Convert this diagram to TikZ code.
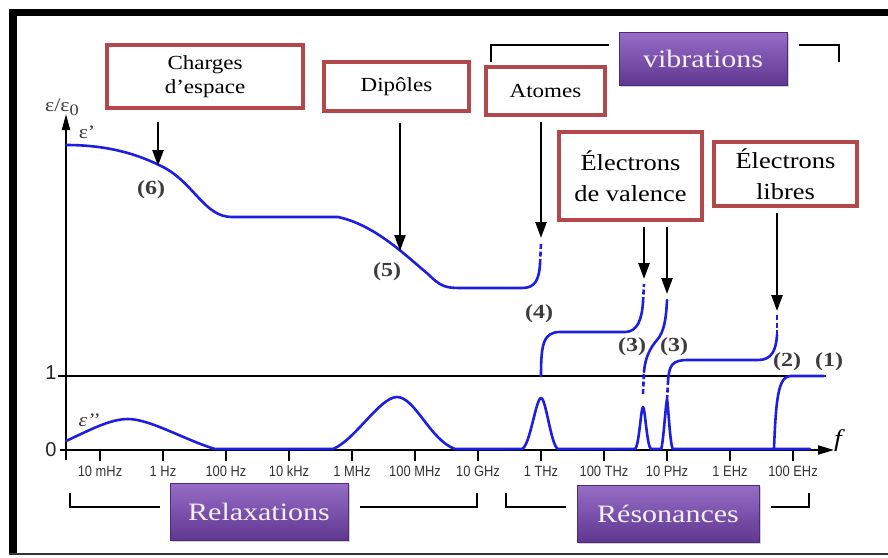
\documentclass[tikz,border=0pt]{standalone}
\usepackage{fontspec}
\setmainfont{Liberation Serif}
\newfontfamily\wideserif{Liberation Serif}[FakeStretch=1.15]
\newfontfamily\tagserif{Liberation Serif}[FakeStretch=1.2]
\newfontfamily\ticksans{Liberation Sans}[FakeStretch=0.86]
\newfontfamily\axsans{Liberation Sans}
\usetikzlibrary{arrows.meta,shadows}

\definecolor{curveblue}{RGB}{30,30,225}
\definecolor{boxred}{RGB}{178,72,76}
\definecolor{violetTop}{RGB}{150,110,200}
\definecolor{violetBot}{RGB}{95,55,145}
\definecolor{labelgray}{RGB}{60,60,60}

\begin{document}
\begin{tikzpicture}[x=1pt,y=-1pt,
  redbox/.style={draw=boxred,line width=4pt,fill=white,inner sep=0pt,align=center,
    font=\wideserif\fontsize{20}{24}\selectfont},
  bigredbox/.style={redbox,font=\wideserif\fontsize{23}{31}\selectfont},
  catbox/.style={draw=violetBot!80!black,line width=0.6pt,top color=violetTop,
    bottom color=violetBot,inner sep=0pt,text=white!94!violet,
    font=\tagserif\fontsize{25}{25}\selectfont,
    drop shadow={shadow xshift=2pt,shadow yshift=-2pt,opacity=0.35}},
  pointer/.style={line width=2.4pt,-{Triangle[length=16pt,width=11pt]}},
  bracket/.style={line width=2.4pt},
  curve/.style={draw=curveblue,line width=2.6pt,line cap=round,line join=round},
  curvedash/.style={curve,line cap=butt,dash pattern=on 5pt off 2.5pt},
  ticklab/.style={font=\ticksans\fontsize{15}{15}\selectfont,text=black!80,inner sep=0pt},
  tag/.style={font=\tagserif\bfseries\fontsize{20}{20}\selectfont,text=labelgray,inner sep=0pt},
  axlab/.style={font=\axsans\fontsize{20}{20}\selectfont,text=black!85,inner sep=0pt},
]
\useasboundingbox (0,0) rectangle (888,557);
\fill[white] (0,0) rectangle (888,557);

% outer frame
\fill[black] (9,9) rectangle (17,555);
\fill[black] (9,9) rectangle (888,16);
\draw[black!80,line width=2pt] (9,554) -- (888,554);

% axes
\coordinate (orig) at (66,460);
\coordinate (ytop) at (66,114);
\coordinate (xstart) at (60,450);
\coordinate (xend) at (834,450);
\coordinate (onestart) at (58,376);
\coordinate (oneend) at (826,376);
\draw[line width=2pt,-{Triangle[length=16pt,width=8pt]}] (orig) -- (ytop);
\draw[line width=2pt,-{Triangle[length=16pt,width=9pt]}] (xstart) -- (xend);
\draw[line width=2pt] (onestart) -- (oneend);

% frequency ticks
\foreach \i/\lab in {0/10 mHz,1/1 Hz,2/100 Hz,3/10 kHz,4/1 MHz,5/100 MHz,
                     6/10 GHz,7/1 THz,8/100 THz,9/10 PHz,10/1 EHz,11/100 EHz}{
  \draw[line width=1.6pt] (100+63*\i,450) -- (100+63*\i,461);
  \node[ticklab] (tick\i) at (100+63*\i,471) {\lab};
}

% axis labels
\node[font=\wideserif\fontsize{19}{19}\selectfont,text=labelgray,inner sep=0pt] (ylab) at (62,107)
  {ε/ε\raisebox{-4pt}{\fontsize{16}{16}\selectfont 0}};
\node[font=\wideserif\fontsize{19}{19}\selectfont,text=labelgray,inner sep=0pt] (epsr) at (87,132) {ε\textquoteright};
\node[font=\wideserif\itshape\fontsize{19}{19}\selectfont,text=labelgray,inner sep=0pt] (epsi) at (89,420) {ε\textquoteright\textquoteright};
\node[axlab] (lab1) at (51,373) {1};
\node[axlab] (lab0) at (51,450) {0};
\node[font=\wideserif\itshape\fontsize{24}{24}\selectfont,inner sep=0pt] (flab) at (838,441) {f};

% imaginary part
\draw[curve] (66,441) .. controls (90,430) and (110,419) .. (128,419)
  .. controls (150,419) and (185,440) .. (215,449) -- (333,449)
  .. controls (355,440) and (380,397) .. (397,397)
  .. controls (415,397) and (430,440) .. (455,449) -- (522,449)
  .. controls (530,446) and (536,398) .. (541,398)
  .. controls (546,398) and (551,446) .. (558,449) -- (635,449)
  .. controls (639,447) and (641,407) .. (643,407)
  .. controls (645,407) and (647,447) .. (651,449) -- (661,449)
  .. controls (663,447) and (666,400) .. (667,400)
  .. controls (668,400) and (670,447) .. (673,449) -- (810,449);

% real part
\draw[curve] (66,145) .. controls (110,145) and (140,155) .. (165,168)
  .. controls (195,185) and (205,217) .. (232,217) -- (338,217)
  .. controls (375,225) and (405,255) .. (428,274)
  .. controls (440,286) and (445,288) .. (460,288) -- (522,288)
  .. controls (535,288) and (539,280) .. (540,264);
\draw[curvedash] (540,264) -- (541,244);

\draw[curve] (541,376) .. controls (541,345) and (543,332) .. (560,332) -- (625,332)
  .. controls (638,332) and (642,318) .. (643,302);
\draw[curvedash] (643,302) -- (644,284);

\draw[curvedash] (643,394) -- (644,372);
\draw[curve] (644,372) .. controls (645,358) and (650,348) .. (657,340)
  .. controls (664,332) and (666,320) .. (667,300);

\draw[curvedash] (667,400) -- (668,382);
\draw[curve] (668,382) .. controls (669,365) and (672,360) .. (688,360) -- (758,360)
  .. controls (772,360) and (776,350) .. (777,335);
\draw[curvedash] (777,335) -- (777,315);

\draw[curve] (774,448) .. controls (776,400) and (778,377) .. (790,376) -- (824,376);

% process numbers
\node[tag] (n6) at (151,190) {(6)};
\node[tag] (n5) at (387,272) {(5)};
\node[tag] (n4) at (539,314) {(4)};
\node[tag] (n3a) at (632,347) {(3)};
\node[tag] (n3b) at (674,347) {(3)};
\node[tag] (n2) at (787,362) {(2)};
\node[tag] (n1) at (829,362) {(1)};

% mechanism boxes
\node[redbox,minimum width=196pt,minimum height=63pt] (charges) at (205,76.5) {Charges\\d\textquoteright espace};
\node[redbox,minimum width=145pt,minimum height=49pt] (dipoles) at (396.5,86.5) {Dipôles};
\node[redbox,minimum width=119pt,minimum height=48pt] (atomes) at (545.5,91) {Atomes};
\node[bigredbox,minimum width=143pt,minimum height=88pt] (valence) at (630.5,176) {Électrons\\de valence};
\node[bigredbox,minimum width=143pt,minimum height=64pt] (libres) at (785.5,174) {Électrons\\libres};

% arrows onto the curve
\coordinate (tipA) at (158,166);
\coordinate (tipB) at (400,251);
\coordinate (tipC) at (541,238);
\coordinate (tipD) at (644,279);
\coordinate (tipE) at (667,294);
\coordinate (tipF) at (777,311);
\draw[pointer,shorten <=12pt] (charges.south -| tipA) -- (tipA);
\draw[pointer,shorten <=10pt] (dipoles.south -| tipB) -- (tipB);
\draw[pointer,shorten <=5pt] (atomes.south -| tipC) -- (tipC);
\draw[pointer,shorten <=5pt] (valence.south -| tipD) -- (tipD);
\draw[pointer,shorten <=5pt] (valence.south -| tipE) -- (tipE);
\draw[pointer,shorten <=5pt] (libres.south -| tipF) -- (tipF);

% category tags and brackets
\node[catbox,minimum width=168pt,minimum height=53pt] (vib) at (703,58.5) {vibrations};
\node[catbox,minimum width=178pt,minimum height=57pt] (relax) at (259,511.5) {Relaxations};
\node[catbox,minimum width=182pt,minimum height=57pt] (reso) at (668,513.5) {Résonances};

\coordinate (vibL) at (491,62);
\coordinate (vibR) at (839,62);
\draw[bracket] (vibL) |- ([xshift=-10pt]vib.west |- 0,45);
\draw[bracket] (vibR) |- ([xshift=12pt]vib.east |- 0,45);

\coordinate (relL) at (70,493);
\coordinate (relR) at (477,493);
\draw[bracket] (relL) |- ([xshift=-10pt]relax.west |- 0,507);
\draw[bracket] (relR) |- ([xshift=12pt]relax.east |- 0,507);

\coordinate (resL) at (506,493);
\coordinate (resR) at (809,493);
\draw[bracket] (resL) |- ([xshift=-11pt]reso.west |- 0,507);
\draw[bracket] (resR) |- ([xshift=12pt]reso.east |- 0,507);
\end{tikzpicture}
\end{document}
